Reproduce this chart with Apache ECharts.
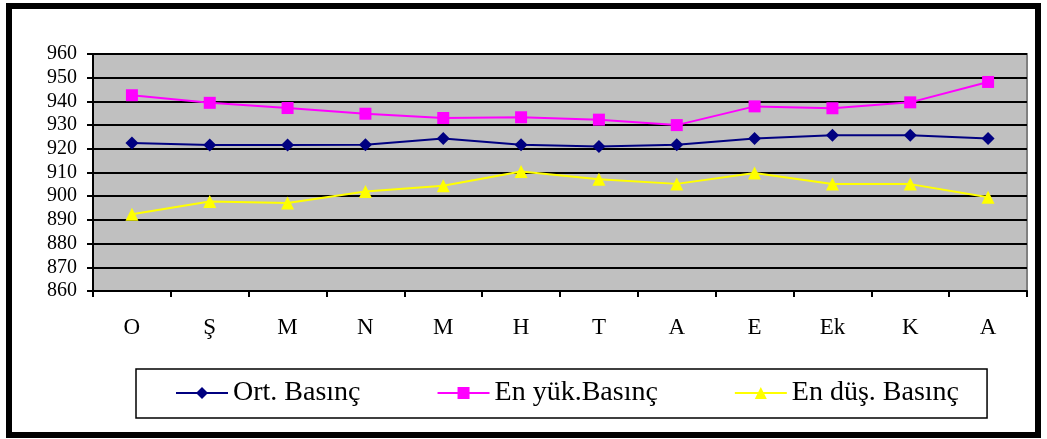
<!DOCTYPE html>
<html>
<head>
<meta charset="utf-8">
<script src="https://cdn.jsdelivr.net/npm/echarts@6/dist/echarts.min.js"></script>
<style>html,body{margin:0;padding:0;background:#fff;}#c{width:1047px;height:439px;}</style>
</head>
<body>
<div id="c"></div>
<script>
const categories = ['O', 'Ş', 'M', 'N', 'M', 'H', 'T', 'A', 'E', 'Ek', 'K', 'A'];
const ortBasinc = [922.4, 921.6, 921.6, 921.7, 924.3, 921.7, 921.0, 921.7, 924.3, 925.7, 925.7, 924.3];
const enYukBasinc = [942.6, 939.4, 937.2, 934.8, 933.0, 933.3, 932.3, 930.0, 937.9, 937.1, 939.6, 948.2];
const enDusBasinc = [892.4, 897.8, 897.1, 902.0, 904.4, 910.4, 907.2, 905.2, 909.8, 905.1, 905.1, 899.6];
const seriesNames = ['Ort. Basınç', 'En yük.Basınç', 'En düş. Basınç'];

const FONT = "'Liberation Serif', 'Times New Roman', serif";
const chart = echarts.init(document.getElementById('c'), null, {renderer: 'canvas'});
chart.setOption({
  animation: false,
  backgroundColor: '#fff',
  textStyle: {fontFamily: FONT},
  graphic: [{
    type: 'rect', z: 100,
    shape: {x: 9, y: 6, width: 1029, height: 429},
    style: {fill: 'none', stroke: '#000', lineWidth: 6}
  }],
  grid: {
    left: 93, top: 54, width: 934, height: 237,
    show: true, backgroundColor: '#c0c0c0', borderColor: '#808080', borderWidth: 2
  },
  legend: {
    left: 136, top: 369,
    padding: [10, 28, 11, 39],
    itemGap: 76,
    itemWidth: 52, itemHeight: 15,
    backgroundColor: '#fff', borderColor: '#000', borderWidth: 1.5,
    textStyle: {fontFamily: FONT, fontSize: 28, color: '#000'},
    data: seriesNames
  },
  xAxis: {
    type: 'category', data: categories, boundaryGap: true,
    axisLine: {show: true, lineStyle: {color: '#000', width: 2}},
    axisTick: {show: true, length: 6, lineStyle: {color: '#000', width: 2}},
    axisLabel: {fontFamily: FONT, fontSize: 23, color: '#000', margin: 25},
    splitLine: {show: false}
  },
  yAxis: {
    type: 'value', min: 860, max: 960, interval: 10,
    axisLine: {show: true, lineStyle: {color: '#000', width: 2}},
    axisTick: {show: true, length: 6, lineStyle: {color: '#000', width: 2}},
    axisLabel: {fontFamily: FONT, fontSize: 20, color: '#000', margin: 16},
    splitLine: {show: true, lineStyle: {color: '#000', width: 2}}
  },
  series: [
    {name: seriesNames[0], type: 'line', data: ortBasinc, color: '#000080',
     symbol: 'diamond', symbolSize: 13, lineStyle: {width: 2, color: '#000080'},
     itemStyle: {color: '#000080'}},
    {name: seriesNames[1], type: 'line', data: enYukBasinc, color: '#ff00ff',
     symbol: 'rect', symbolSize: 12, lineStyle: {width: 2, color: '#ff00ff'},
     itemStyle: {color: '#ff00ff'}},
    {name: seriesNames[2], type: 'line', data: enDusBasinc, color: '#ffff00',
     symbol: 'triangle', symbolSize: 13, lineStyle: {width: 2, color: '#ffff00'},
     itemStyle: {color: '#ffff00'}}
  ]
});
</script>
</body>
</html>
